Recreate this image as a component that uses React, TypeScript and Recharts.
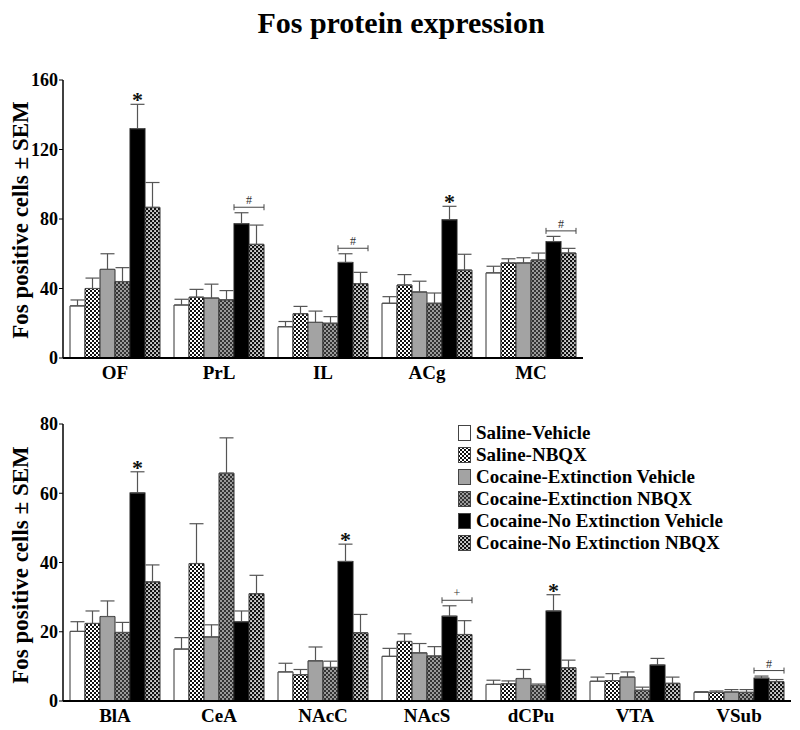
import React from "react";
import { BarChart, Bar, XAxis, YAxis, ErrorBar } from "recharts";

// ─── Data ─────────────────────────────────────────────────────────────────────

const topRegions = ["OF", "PrL", "IL", "ACg", "MC"];
const topSalVeh = [30, 30.5, 18, 31.5, 49];
const topSalVehErr = [3.4, 3.3, 3, 3.8, 3.8];
const topSalNbqx = [40, 35, 25.5, 42, 54.7];
const topSalNbqxErr = [6, 4.5, 4.2, 6, 2.4];
const topExtVeh = [51, 34.5, 20.5, 38, 54.7];
const topExtVehErr = [9, 8, 6.5, 6.2, 3];
const topExtNbqx = [44, 33.5, 20, 31.5, 56.4];
const topExtNbqxErr = [8, 5.3, 3.8, 5.9, 4];
const topNoExtVeh = [132, 77.3, 55, 79.6, 67];
const topNoExtVehErr = [14, 6.3, 5, 7.7, 3];
const topNoExtNbqx = [86.7, 65.4, 42.8, 50.6, 60.4];
const topNoExtNbqxErr = [14.3, 11.1, 6.5, 9.1, 2.7];
const topSig = ["*", "#", "#", "*", "#"];
const topTicks = [0, 40, 80, 120, 160];

const botRegions = ["BlA", "CeA", "NAcC", "NAcS", "dCPu", "VTA", "VSub"];
const botSalVeh = [20.1, 15, 8.4, 12.9, 4.8, 5.7, 2.5];
const botSalVehErr = [2.8, 3.3, 2.5, 2.3, 1.2, 1.2, 0.2];
const botSalNbqx = [22.4, 39.7, 7.6, 17.2, 5, 5.9, 2.5];
const botSalNbqxErr = [3.6, 11.5, 1.5, 2.2, 0.8, 2, 0.4];
const botExtVeh = [24.4, 18.5, 11.6, 13.9, 6.5, 6.9, 2.6];
const botExtVehErr = [4.5, 3.5, 4, 2.7, 2.6, 1.5, 0.7];
const botExtNbqx = [19.8, 65.8, 9.7, 13, 4.5, 3.1, 2.5];
const botExtNbqxErr = [2.9, 10.2, 1.8, 2.7, 0.4, 0.9, 0.8];
const botNoExtVeh = [60.1, 22.9, 40.3, 24.5, 26, 10.4, 6.6];
const botNoExtVehErr = [6.1, 3.1, 5, 3, 4.7, 1.9, 0.6];
const botNoExtNbqx = [34.4, 31, 19.7, 19.2, 9.6, 5.1, 5.6];
const botNoExtNbqxErr = [4.9, 5.3, 5.3, 4, 2.2, 1.8, 0.6];
const botSig = ["*", "", "*", "+", "*", "", "#"];
const botTicks = [0, 20, 40, 60, 80];

// ─── Series styling ───────────────────────────────────────────────────────────

const FONT = '"Liberation Serif", "Times New Roman", serif';

const SERIES = [
  { key: "salVeh", name: "Saline-Vehicle", fill: "#ffffff" },
  { key: "salNbqx", name: "Saline-NBQX", fill: "url(#chkLight)" },
  { key: "extVeh", name: "Cocaine-Extinction Vehicle", fill: "#a3a3a3" },
  { key: "extNbqx", name: "Cocaine-Extinction NBQX", fill: "url(#chkGray)" },
  { key: "noExtVeh", name: "Cocaine-No Extinction Vehicle", fill: "#000000" },
  { key: "noExtNbqx", name: "Cocaine-No Extinction NBQX", fill: "url(#chkDark)" },
];

function buildRows(regions: string[], values: number[][], errors: number[][], sig: string[]) {
  return regions.map((region, i) => {
    const row: any = { region, sig: sig[i] };
    SERIES.forEach((s, j) => {
      row[s.key] = values[j][i];
      row[s.key + "Err"] = [0, errors[j][i]];
    });
    return row;
  });
}

const topRows = buildRows(
  topRegions,
  [topSalVeh, topSalNbqx, topExtVeh, topExtNbqx, topNoExtVeh, topNoExtNbqx],
  [topSalVehErr, topSalNbqxErr, topExtVehErr, topExtNbqxErr, topNoExtVehErr, topNoExtNbqxErr],
  topSig
);

const botRows = buildRows(
  botRegions,
  [botSalVeh, botSalNbqx, botExtVeh, botExtNbqx, botNoExtVeh, botNoExtNbqx],
  [botSalVehErr, botSalNbqxErr, botExtVehErr, botExtNbqxErr, botNoExtVehErr, botNoExtNbqxErr],
  botSig
);

// ─── Black bar with significance marks ────────────────────────────────────────

function NoExtBar(props: any) {
  const { x, y, width, height, payload } = props;
  const ppu = height / payload.noExtVeh;
  const base = y + height;
  const top = y - payload.noExtVehErr[1] * ppu;
  const nbTop = base - (payload.noExtNbqx + payload.noExtNbqxErr[1]) * ppu;
  const cx = x + width / 2;
  const bracket = payload.sig === "#" || payload.sig === "+";
  const lv = Math.min(top, nbTop) - 5.5;
  const x1 = x;
  const x2 = x + width * 2;
  return (
    <g>
      <rect x={x} y={y} width={width} height={height} fill="#000" stroke="#222" strokeWidth={1} />
      {payload.sig === "*" && (
        <text x={cx} y={top + 3} textAnchor="middle" fontSize={22} fontWeight="bold" fontFamily={FONT} fill="#111">
          *
        </text>
      )}
      {bracket && (
        <g stroke="#444" strokeWidth={1}>
          <line x1={x1} x2={x2} y1={lv} y2={lv} />
          <line x1={x1} x2={x1} y1={lv - 3} y2={lv + 3} />
          <line x1={x2} x2={x2} y1={lv - 3} y2={lv + 3} />
          <text x={(x1 + x2) / 2} y={lv - 3} textAnchor="middle" fontSize={12} fontFamily={FONT} fill="#333" stroke="none">
            {payload.sig}
          </text>
        </g>
      )}
    </g>
  );
}

// ─── One panel ────────────────────────────────────────────────────────────────

function Panel({ rows, width, height, margin, domain, ticks, xHeight }: any) {
  return (
    <BarChart width={width} height={height} data={rows} margin={margin} barCategoryGap={7} barGap={0}>
      <XAxis
        dataKey="region"
        height={xHeight}
        axisLine={{ stroke: "#000", strokeWidth: 2 }}
        tickLine={false}
        tickSize={6}
        tickMargin={2}
        interval={0}
        tick={{ fill: "#000", fontSize: 19, fontWeight: "bold", fontFamily: FONT }}
      />
      <YAxis
        width={63}
        domain={domain}
        ticks={ticks}
        interval={0}
        axisLine={{ stroke: "#000", strokeWidth: 1.5 }}
        tickLine={{ stroke: "#000" }}
        tickSize={4}
        tickMargin={1}
        tick={{ fill: "#000", fontSize: 18, fontWeight: "bold", fontFamily: FONT }}
      />
      {SERIES.map((s) => (
        <Bar
          key={s.key}
          dataKey={s.key}
          fill={s.fill}
          stroke="#333"
          strokeWidth={1}
          isAnimationActive={false}
          shape={s.key === "noExtVeh" ? NoExtBar : undefined}
        >
          <ErrorBar dataKey={s.key + "Err"} width={7} stroke="#555" strokeWidth={1.2} direction="y" />
        </Bar>
      ))}
    </BarChart>
  );
}

// ─── Legend ───────────────────────────────────────────────────────────────────

function Legend() {
  return (
    <div style={{ position: "absolute", left: 458, top: 422, fontFamily: FONT }}>
      {SERIES.map((s) => (
        <div key={s.key} style={{ display: "flex", alignItems: "center", height: 22 }}>
          <svg width={13} height={16} style={{ marginRight: 5 }}>
            <rect x={0.5} y={0.5} width={12} height={15} fill={s.fill} stroke="#444" strokeWidth={1} />
          </svg>
          <span style={{ fontSize: 19, fontWeight: "bold", color: "#000", whiteSpace: "nowrap" }}>{s.name}</span>
        </div>
      ))}
    </div>
  );
}

// ─── App ──────────────────────────────────────────────────────────────────────

export default function App() {
  return (
    <div style={{ position: "absolute", left: 0, top: 0, width: 800, height: 730, background: "#fff" }}>
      <svg width={800} height={730} style={{ position: "absolute", left: 0, top: 0, pointerEvents: "none" }}>
        <defs>
          <pattern id="chkLight" width={4} height={4} patternUnits="userSpaceOnUse">
            <rect width={4} height={4} fill="#fff" />
            <rect x={0} y={0} width={2} height={2} fill="#111" />
            <rect x={2} y={2} width={2} height={2} fill="#111" />
          </pattern>
          <pattern id="chkDark" width={4} height={4} patternUnits="userSpaceOnUse">
            <rect width={4} height={4} fill="#111" />
            <rect x={0.2} y={0.2} width={1.7} height={1.7} fill="#fff" />
            <rect x={2.2} y={2.2} width={1.7} height={1.7} fill="#fff" />
          </pattern>
          <pattern id="chkGray" width={4} height={4} patternUnits="userSpaceOnUse">
            <rect width={4} height={4} fill="#9a9a9a" />
            <rect x={0} y={0} width={2} height={2} fill="#333" />
            <rect x={2} y={2} width={2} height={2} fill="#333" />
          </pattern>
        </defs>
      </svg>

      <div style={{ position: "absolute", left: 0, top: 0 }}>
        <Panel
          rows={topRows}
          width={600}
          height={400}
          margin={{ top: 80, right: 17, left: 0, bottom: 12 }}
          domain={[0, 160]}
          ticks={topTicks}
          xHeight={30}
        />
      </div>
      <div style={{ position: "absolute", left: 0, top: 390 }}>
        <Panel
          rows={botRows}
          width={800}
          height={340}
          margin={{ top: 34, right: 9, left: 0, bottom: 0 }}
          domain={[0, 80]}
          ticks={botTicks}
          xHeight={29}
        />
      </div>

      <svg width={800} height={730} style={{ position: "absolute", left: 0, top: 0, pointerEvents: "none" }}>
        <text x={401} y={33} textAnchor="middle" fontSize={30} fontWeight="bold" fontFamily={FONT} fill="#000">
          Fos protein expression
        </text>
        <text transform="translate(28,220) rotate(-90)" textAnchor="middle" fontSize={23} fontWeight="bold" fontFamily={FONT} fill="#000">
          Fos positive cells ± SEM
        </text>
        <text transform="translate(28,565) rotate(-90)" textAnchor="middle" fontSize={23} fontWeight="bold" fontFamily={FONT} fill="#000">
          Fos positive cells ± SEM
        </text>
      </svg>

      <Legend />
    </div>
  );
}
